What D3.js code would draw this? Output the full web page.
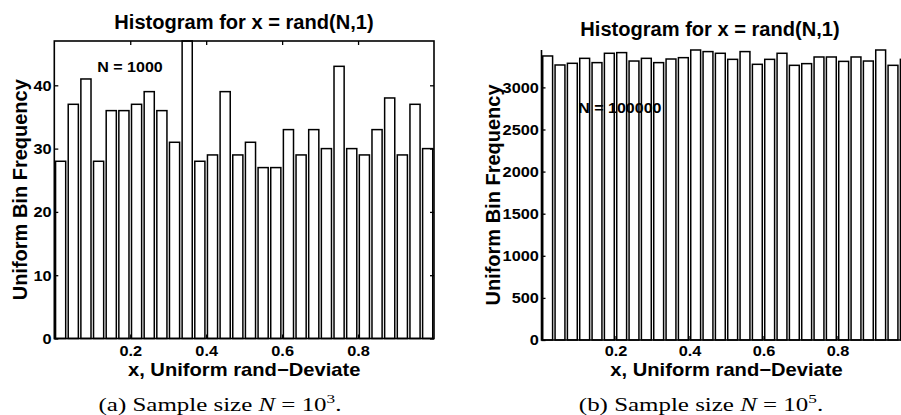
<!DOCTYPE html>
<html>
<head>
<meta charset="utf-8">
<script src="https://cdn.jsdelivr.net/npm/d3@7"></script>
<style>
  body { margin: 0; background: #fff; }
  svg { display: block; }
  .sans { font-family: "Liberation Sans", Arial, Helvetica, sans-serif; font-weight: bold; fill: #000; }
  .serif { font-family: "Liberation Serif", "Times New Roman", serif; fill: #000; }
</style>
</head>
<body>
<svg id="fig" width="901" height="415"></svg>
<script>
// Bin counts for 30 equal-width bins on [0, 1]
const countsSmall = [28, 37, 41, 28, 36, 36, 37, 39, 36, 31, 47, 28, 29, 39, 29,
                     31, 27, 27, 33, 29, 33, 30, 43, 30, 29, 33, 38, 29, 37, 30];
const countsLarge = [3373, 3266, 3286, 3345, 3294, 3405, 3413, 3313, 3345, 3294,
                     3337, 3353, 3444, 3425, 3405, 3333, 3425, 3274, 3333, 3405,
                     3262, 3282, 3361, 3361, 3309, 3361, 3313, 3444, 3262, 3333];
const binCount = 30;

// Tick labels
const xTicks = [0.2, 0.4, 0.6, 0.8];
const yTicksSmall = [0, 10, 20, 30, 40];
const yTicksLarge = [0, 500, 1000, 1500, 2000, 2500, 3000];

// Texts
const titleText = "Histogram for x = rand(N,1)";
const xLabelText = "x, Uniform rand\u2212Deviate";
const yLabelText = "Uniform Bin Frequency";
const noteSmall = "N = 1000";
const noteLarge = "N = 100000";
const captionLetters = ["(a)", "(b)"];
const captionExponents = ["3", "5"];

const svg = d3.select("#fig");

const TICK_FONT = 15;
const TICK_BASELINE = 356.3;   // shared baseline of the x tick labels

function drawPanel(p) {
  const g = svg.append("g");
  const x = d3.scaleLinear().domain([0, 1]).range([p.left, p.right]);
  const y = d3.scaleLinear().domain([0, d3.max(p.counts)]).range([p.bottom, p.top]);
  const binW = 1 / binCount;

  // Bars (80% of the bin width, centred in each bin)
  g.append("g").selectAll("rect")
    .data(p.counts)
    .join("rect")
    .attr("x", (d, i) => x(i * binW + 0.1 * binW))
    .attr("width", x(0.8 * binW) - x(0))
    .attr("y", d => y(d))
    .attr("height", d => y(0) - y(d))
    .attr("fill", "#fff")
    .attr("stroke", "#000")
    .attr("stroke-width", 1.5);

  const styleAxis = sel => {
    sel.select(".domain").remove();
    sel.selectAll(".tick line").attr("stroke", "#000").attr("stroke-width", 1.3);
    sel.selectAll(".tick text").attr("class", "sans").attr("font-size", TICK_FONT)
      .attr("font-family", null).attr("fill", "#000");
  };

  // Inward ticks
  const bottom = g.append("g")
    .attr("transform", `translate(0,${p.bottom})`)
    .call(d3.axisBottom(x).tickValues(xTicks).tickFormat(d3.format(".1f"))
      .tickSizeInner(-4).tickSizeOuter(0)
      .tickPadding(TICK_BASELINE - p.bottom - 0.71 * TICK_FONT));
  styleAxis(bottom);
  bottom.selectAll(".tick text").attr("transform", "scale(1.09,1)");

  const left = g.append("g")
    .attr("transform", `translate(${p.left},0)`)
    .call(d3.axisLeft(y).tickValues(p.yTicks).tickFormat(d3.format("d"))
      .tickSizeInner(-4).tickSizeOuter(0).tickPadding(2.4));
  styleAxis(left);
  left.selectAll(".tick text").attr("transform", "scale(1.09,1)");

  // Axis lines: full box on the first panel, left/bottom lines only on the second
  const frame = g.append("g").attr("fill", "none").attr("stroke", "#000").attr("stroke-width", 1.6);
  if (p.box) {
    const top = g.append("g")
      .attr("transform", `translate(0,${p.top})`)
      .call(d3.axisTop(x).tickValues(xTicks).tickFormat("")
        .tickSizeInner(-4).tickSizeOuter(0));
    styleAxis(top);
    const right = g.append("g")
      .attr("transform", `translate(${p.right},0)`)
      .call(d3.axisRight(y).tickValues(p.yTicks).tickFormat("")
        .tickSizeInner(-4).tickSizeOuter(0));
    styleAxis(right);
    frame.append("rect")
      .attr("x", p.left).attr("y", p.top)
      .attr("width", p.right - p.left).attr("height", p.bottom - p.top);
  } else {
    frame.append("path")
      .attr("d", `M${p.left},${p.top}V${p.bottom}H${p.right}`);
  }

  // Title
  g.append("text").attr("class", "sans")
    .attr("font-size", 19.5).attr("text-anchor", "middle")
    .attr("transform", `translate(${p.titleX},${p.titleY}) scale(1.03,1)`)
    .text(titleText);

  // Axis labels
  g.append("text").attr("class", "sans")
    .attr("font-size", 18).attr("text-anchor", "middle")
    .attr("transform", `translate(${(p.left + p.right) / 2},376) scale(1.12,1)`)
    .text(xLabelText);

  g.append("text").attr("class", "sans")
    .attr("font-size", 20).attr("text-anchor", "middle")
    .attr("transform", `translate(${p.yLabelX},${(p.top + p.bottom) / 2}) scale(1.05,1) rotate(-90)`)
    .text(yLabelText);

  // Sample size annotation
  g.append("text").attr("class", "sans")
    .attr("font-size", 15).attr("dy", "0.36em")
    .attr("transform", `translate(${x(p.noteAt[0])},${y(p.noteAt[1])}) scale(1.07,1)`)
    .text(p.note);

  // Sub-figure caption
  const cap = g.append("text").attr("class", "serif")
    .attr("font-size", 19.5).attr("text-anchor", "middle")
    .attr("transform", `translate(${p.captionX},411) scale(1.28,1)`);
  cap.append("tspan").text(p.letter + " Sample size ");
  cap.append("tspan").attr("font-style", "italic").text("N");
  cap.append("tspan").text(" = 10");
  cap.append("tspan").attr("font-size", 13.5).attr("dy", -8).text(p.exponent);
  cap.append("tspan").attr("dy", 8).text(".");
}

drawPanel({
  counts: countsSmall, yTicks: yTicksSmall, box: true,
  left: 54.3, right: 434, top: 41, bottom: 338.5,
  titleX: 244, titleY: 28.5, yLabelX: 26.5,
  note: noteSmall, noteAt: [0.113, 43],
  letter: captionLetters[0], exponent: captionExponents[0], captionX: 220
});

drawPanel({
  counts: countsLarge, yTicks: yTicksLarge, box: false,
  left: 541.5, right: 911.5, top: 50, bottom: 340,
  titleX: 710, titleY: 36, yLabelX: 500,
  note: noteLarge, noteAt: [0.099, 2755],
  letter: captionLetters[1], exponent: captionExponents[1], captionX: 701
});
</script>
</body>
</html>
